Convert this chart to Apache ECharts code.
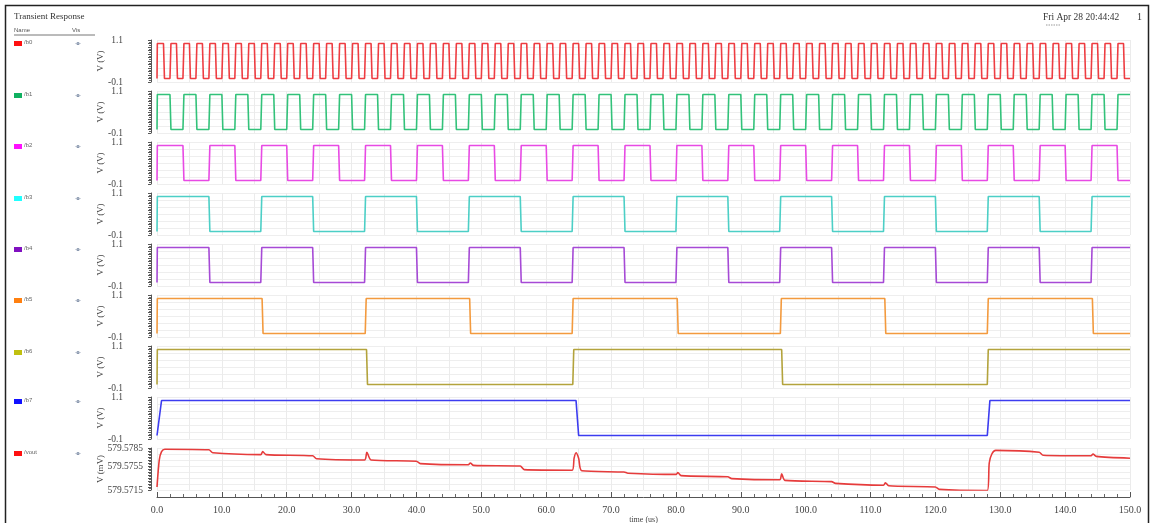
<!DOCTYPE html>
<html><head><meta charset="utf-8">
<script src="https://cdn.jsdelivr.net/npm/echarts@6/dist/echarts.min.js"></script>
<style>html,body{margin:0;padding:0;background:#fff}#c{width:1153px;height:523px}</style>
</head><body><div id="c"></div>
<script>
// ---------- data ----------
const names = ['/b0','/b1','/b2','/b3','/b4','/b5','/b6','/b7','/vout'];
const legendColors = ['#ff1010','#10b060','#ff10ff','#20ffff','#8010c0','#ff8010','#c0c010','#1010ff','#ff1010'];
const lineColors = ['#ee3d42','#33c27a','#e84ae4','#4ccfc6','#a64ad6','#f39a3e','#b3a33c','#3c3cf0','#e63c3c'];
const timeMin = 0, timeMax = 150;
const LOW = 0, HIGH = 1.0;
const b0Edges = [1,2,3,4,5,6,7,8,9,10,11,12,13,14,15,16,17,18,19,20,21,22,23,24,25,26,27,28,29,30,31,32,33,34,35,36,37,38,39,40,41,42,43,44,45,46,47,48,49,50,51,52,53,54,55,56,57,58,59,60,61,62,63,64,65,66,67,68,69,70,71,72,73,74,75,76,77,78,79,80,81,82,83,84,85,86,87,88,89,90,91,92,93,94,95,96,97,98,99,100,101,102,103,104,105,106,107,108,109,110,111,112,113,114,115,116,117,118,119,120,121,122,123,124,125,126,127,128,129,130,131,132,133,134,135,136,137,138,139,140,141,142,143,144,145,146,147,148,149];
const b1Edges = [2,4,6,8,10,12,14,16,18,20,22,24,26,28,30,32,34,36,38,40,42,44,46,48,50,52,54,56,58,60,62,64,66,68,70,72,74,76,78,80,82,84,86,88,90,92,94,96,98,100,102,104,106,108,110,112,114,116,118,120,122,124,126,128,130,132,134,136,138,140,142,144,146,148];
const b2Edges = [4,8,12,16,20,24,28,32,36,40,44,48,52,56,60,64,68,72,76,80,84,88,92,96,100,104,108,112,116,120,124,128,132,136,140,144,148];
const b3Edges = [8,16,24,32,40,48,56,64,72,80,88,96,104,112,120,128,136,144];
const b4Edges = [8,16,24,32,40,48,56,64,72,80,88,96,104,112,120,128,136,144];
const b5Edges = [16.2,32.1,48.2,64.0,80.2,96.1,112.2,128.0,144.2];
const b6Edges = [32.3,64.1,96.3,128.0];
const b7Points = [[0,0],[0.7,1.0],[64.6,1.0],[65.0,0],[128.0,0],[128.4,1.0],[150,1.0]];
const voutPoints = [
  [0,579.5720],[0.35,579.5765],[0.7,579.5779],[1.2,579.5783],[8.0,579.5782],[8.6,579.5777],
  [16.0,579.5774],[16.3,579.5779],[16.8,579.5774],[24.0,579.5772],[24.6,579.5767],
  [32.0,579.5765],[32.35,579.5778],[33.0,579.5765],[40.0,579.5763],[40.6,579.5759],
  [48.0,579.5757],[48.3,579.5760],[48.8,579.5756],[56.0,579.5755],[56.6,579.5749],
  [64.0,579.5748],[64.3,579.5768],[64.6,579.5777],[65.0,579.5768],[65.5,579.5747],
  [72.0,579.5745],[72.6,579.5743],[80.0,579.5741],[80.3,579.5744],[80.8,579.5739],
  [88.0,579.5737],[88.6,579.5734],[96.0,579.5732],[96.3,579.5742],[96.8,579.5731],
  [104.0,579.5729],[104.6,579.5726],[112.0,579.5723],[112.3,579.5727],[112.8,579.5722],
  [120.0,579.5720],[120.6,579.5716],[128.0,579.5714],[128.3,579.5760],[128.7,579.5775],
  [129.3,579.5781],[136.0,579.5778],[136.6,579.5773],[144.0,579.5772],[144.3,579.5775],
  [144.8,579.5771],[150.0,579.5768]
];
const voutMin = 579.5715, voutMax = 579.5785;
const voutLabels = ['579.5785','579.5755','579.5715'];
const xTickLabels = ['0.0','10.0','20.0','30.0','40.0','50.0','60.0','70.0','80.0','90.0','100.0','110.0','120.0','130.0','140.0','150.0'];

// ---------- build ----------
const TR = 0.15;
function square(edges) {
  const d = [[0, LOW], [0.05, HIGH]];
  let cur = HIGH;
  edges.forEach(e => { const nx = cur === HIGH ? LOW : HIGH; d.push([e, cur]); d.push([e + TR, nx]); cur = nx; });
  d.push([timeMax, cur]);
  return d;
}
const digital = [square(b0Edges), square(b1Edges), square(b2Edges), square(b3Edges), square(b4Edges), square(b5Edges), square(b6Edges), b7Points];

const FONT = 'Liberation Serif';
const TOP0 = 40, STEP = 51, H = 42, LEFT = 157, RIGHT = 23;
const grids = [], xAxes = [], yAxes = [], series = [];
for (let i = 0; i < 9; i++) {
  grids.push({left: LEFT, right: RIGHT, top: TOP0 + STEP * i, height: H, outerBoundsMode: 'none', containLabel: false});
  xAxes.push({type: 'value', gridIndex: i, min: timeMin, max: timeMax, interval: 5,
    axisLine: {show: false, onZero: false}, axisTick: {show: false}, axisLabel: {show: false},
    splitLine: {show: true, lineStyle: {color: '#ebebeb', width: 1}}});
  const isV = i === 8;
  yAxes.push({type: 'value', gridIndex: i,
    min: isV ? voutMin : -0.1, max: isV ? voutMax : 1.1, interval: isV ? 0.0005 : 0.1,
    name: isV ? 'V (mV)' : 'V (V)', nameLocation: 'middle', nameGap: 46, nameMoveOverlap: false,
    nameTextStyle: {fontFamily: FONT, fontSize: 9, color: '#444'},
    offset: 6,
    axisLine: {show: true, onZero: false, lineStyle: {color: '#555', width: 1}},
    axisTick: {show: true, inside: false, length: 3, lineStyle: {color: '#555'}},
    minorTick: {show: true, splitNumber: 2, length: 2, lineStyle: {color: '#666'}},
    splitLine: {show: false},
    axisLabel: {show: true, margin: isV ? 8 : 28, fontFamily: FONT, fontSize: 9.5, color: '#444',
      formatter: isV
        ? (v => { const s = v.toFixed(4); return voutLabels.indexOf(s) >= 0 ? s : ''; })
        : (v => { const s = (Math.round(v * 10) / 10).toFixed(1); return (s === '1.1' || s === '-0.1') ? s : ''; })
    }});
  // hidden axis for horizontal grid lines
  yAxes.push({type: 'value', gridIndex: i, min: 0, max: isV ? 7 : 6, interval: 1, position: 'right',
    axisLine: {show: false, onZero: false}, axisTick: {show: false}, axisLabel: {show: false},
    splitLine: {show: true, lineStyle: {color: '#eeeeee', width: 1}}});
  series.push({type: 'line', xAxisIndex: i, yAxisIndex: 2 * i, data: isV ? voutPoints : digital[i],
    showSymbol: false, symbol: 'none', animation: false, smooth: isV ? 0.25 : false,
    lineStyle: {color: lineColors[i], width: 1.6}});
}
// visible time axis under the last panel
xAxes.push({type: 'value', gridIndex: 8, min: timeMin, max: timeMax, interval: 10, offset: 7, position: 'bottom',
  name: 'time (us)', nameLocation: 'middle', nameGap: 19, nameMoveOverlap: false,
  nameTextStyle: {fontFamily: FONT, fontSize: 8, color: '#444'},
  axisLine: {show: true, onZero: false, lineStyle: {color: '#555', width: 1}},
  axisTick: {show: true, inside: true, length: 5, lineStyle: {color: '#555'}},
  minorTick: {show: true, splitNumber: 5, length: 3, lineStyle: {color: '#666'}},
  splitLine: {show: false},
  axisLabel: {margin: 8, fontFamily: FONT, fontSize: 10, color: '#444',
    formatter: (v) => xTickLabels[Math.round(v / 10)]}});

// left name panel + header
const graphic = [
  {type: 'polyline', shape: {points: [[5.5, 523], [5.5, 5.5], [1148.5, 5.5], [1148.5, 523]]}, style: {fill: 'none', stroke: '#222', lineWidth: 1.5}, silent: true},
  {type: 'text', left: 14, top: 12, style: {text: 'Transient Response', font: '9px "Liberation Serif"', fill: '#333'}},
  {type: 'text', left: 14, top: 27, style: {text: 'Name', font: '6px "Liberation Sans"', fill: '#555'}},
  {type: 'text', left: 72, top: 27, style: {text: 'Vis', font: '6px "Liberation Sans"', fill: '#555'}},
  {type: 'line', shape: {x1: 14, y1: 35, x2: 95, y2: 35}, style: {stroke: '#777', lineWidth: 1}},
  {type: 'text', left: 1043, top: 12, style: {text: 'Fri Apr 28 20:44:42', font: '9.5px "Liberation Serif"', fill: '#333'}},
  {type: 'line', shape: {x1: 1046, y1: 25, x2: 1061, y2: 25}, style: {stroke: '#999', lineWidth: 1, lineDash: [1.5, 1]}},
  {type: 'text', left: 1137, top: 12, style: {text: '1', font: '10px "Liberation Serif"', fill: '#333'}}
];
const legendY = [43, 95, 146, 198, 249, 300, 352, 401, 453];
names.forEach((n, i) => {
  graphic.push({type: 'rect', shape: {x: 14, y: legendY[i] - 2, width: 8, height: 5}, style: {fill: legendColors[i]}});
  graphic.push({type: 'text', left: 24, top: legendY[i] - 3.5, style: {text: n, font: '6px "Liberation Sans"', fill: '#666'}});
  graphic.push({type: 'circle', shape: {cx: 78, cy: legendY[i] + 0.5, r: 1.6}, style: {fill: '#7f8fa8'}});
  graphic.push({type: 'line', shape: {x1: 75, y1: legendY[i] + 0.5, x2: 81, y2: legendY[i] + 0.5}, style: {stroke: '#b8c0cc', lineWidth: 0.6}});
});

const chart = echarts.init(document.getElementById('c'), null, {renderer: 'canvas'});
chart.setOption({animation: false, backgroundColor: '#fff', grid: grids, xAxis: xAxes, yAxis: yAxes, series: series, graphic: graphic});
</script></body></html>
